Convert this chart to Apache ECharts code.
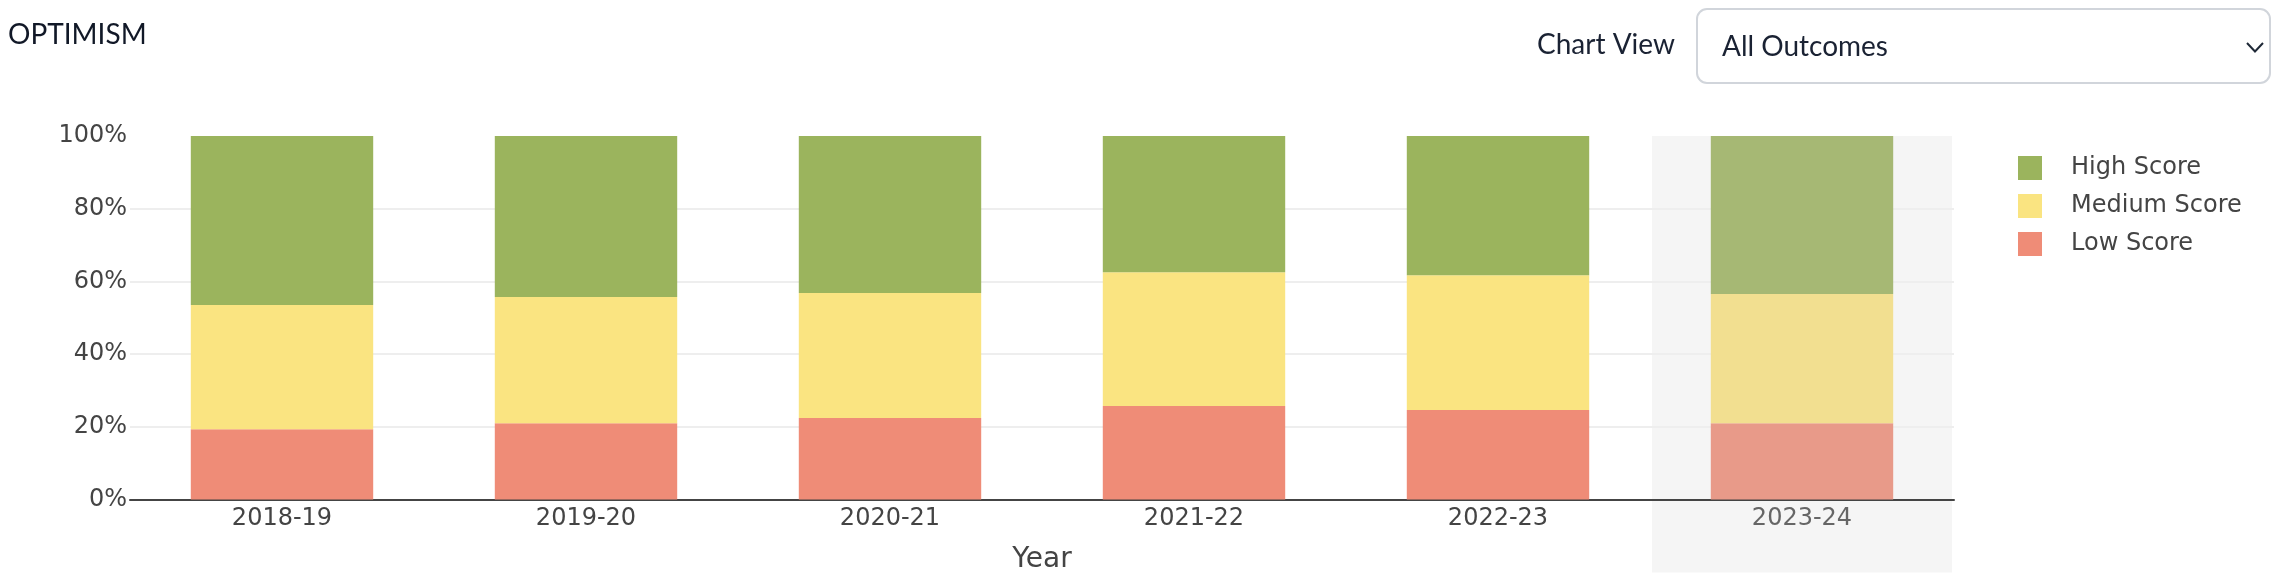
<!DOCTYPE html>
<html>
<head>
<meta charset="utf-8">
<script src="https://cdn.jsdelivr.net/npm/echarts@6/dist/echarts.min.js"></script>
<style>
  html, body { margin: 0; padding: 0; background: #ffffff; }
  #chart { width: 2284px; height: 582px; }
</style>
</head>
<body>
<div id="chart"></div>
<script>
// ---- data ----
const years = ['2018-19', '2019-20', '2020-21', '2021-22', '2022-23', '2023-24'];
const lowScore = [19.3, 21.0, 22.4, 25.7, 24.6, 21.0];
const mediumScore = [34.2, 34.7, 34.4, 36.8, 37.1, 35.5];
const highScore = [46.5, 44.3, 43.2, 37.5, 38.3, 43.5];
const yTicks = [0, 20, 40, 60, 80, 100];
const highlightedYear = '2023-24';

// ---- styles ----
const colors = { high: '#9BB45D', medium: '#FAE481', low: '#EF8C77' };
const fadedColors = { high: '#A6B874', medium: '#F2DF90', low: '#E89A89' };
const tickFont = 'DejaVu Sans, Verdana, sans-serif';
const uiFont = 'Lato, "Noto Sans", sans-serif';

function styled(values, key) {
  return values.map((v, i) => years[i] === highlightedYear
    ? { value: v, itemStyle: { color: fadedColors[key] } }
    : v);
}

const chart = echarts.init(document.getElementById('chart'), null, { renderer: 'canvas' });

const option = {
  backgroundColor: '#ffffff',
  animation: false,
  title: {
    text: 'OPTIMISM',
    left: 8,
    top: 21,
    padding: 0,
    textStyle: { fontFamily: uiFont, fontSize: 28, fontWeight: 'normal', color: '#111827' }
  },
  graphic: [
    { type: 'text', left: 1537, top: 31, style: { text: 'Chart View', font: '28px Lato, "Noto Sans", sans-serif', fill: '#1a2233' } },
    { type: 'rect', shape: { x: 1697, y: 9, width: 573, height: 74, r: 10 }, style: { fill: '#ffffff', stroke: '#d1d5db', lineWidth: 2 } },
    { type: 'text', left: 1722, top: 33, style: { text: 'All Outcomes', font: '28px Lato, "Noto Sans", sans-serif', fill: '#1a2233' } },
    { type: 'polyline', shape: { points: [[2247, 43], [2255, 51.5], [2263, 43]] }, style: { stroke: '#1f2937', lineWidth: 2, fill: null } }
  ],
  legend: {
    orient: 'vertical',
    left: 2018,
    top: 156,
    padding: 0,
    itemWidth: 24,
    itemHeight: 24,
    itemGap: 14,
    icon: 'rect',
    data: ['High Score', 'Medium Score', 'Low Score'],
    textStyle: { fontFamily: tickFont, fontSize: 24, color: '#444444', padding: [0, 0, 0, 24] }
  },
  grid: { left: 130, right: 330, top: 136, height: 363.5 },
  xAxis: {
    type: 'category',
    data: years,
    name: 'Year',
    nameLocation: 'middle',
    nameGap: 46,
    nameTextStyle: { fontFamily: tickFont, fontSize: 28, color: '#444444' },
    axisLine: { lineStyle: { color: '#444444', width: 2 } },
    axisTick: { show: false },
    axisLabel: {
      fontFamily: tickFont, fontSize: 24, margin: 7,
      color: function (value) { return value === highlightedYear ? '#666666' : '#444444'; }
    },
    splitLine: { show: false }
  },
  yAxis: {
    type: 'value',
    min: yTicks[0],
    max: yTicks[yTicks.length - 1],
    interval: yTicks[1] - yTicks[0],
    axisLine: { show: false },
    axisTick: { show: false },
    axisLabel: { fontFamily: tickFont, fontSize: 24, color: '#444444', margin: 3, formatter: '{value}%' },
    splitLine: { show: true, showMinLine: false, showMaxLine: false, lineStyle: { color: '#eeeeee', width: 2 } }
  },
  series: [
    {
      type: 'custom',
      name: 'highlight',
      silent: true,
      z: -1,
      clip: false,
      data: [[highlightedYear, 100]],
      renderItem: function (params, api) {
        const bottom = api.coord([api.value(0), 0]);
        const top = api.coord([api.value(0), 100]);
        const w = api.size([1, 0])[0];
        return {
          type: 'rect',
          shape: { x: bottom[0] - w / 2 + 2, y: top[1], width: w - 4, height: bottom[1] - top[1] + 73 },
          style: { fill: '#f5f5f5' }
        };
      }
    },
    { name: 'Low Score', type: 'bar', stack: 'total', barWidth: '60%', itemStyle: { color: colors.low }, data: styled(lowScore, 'low') },
    { name: 'Medium Score', type: 'bar', stack: 'total', barWidth: '60%', itemStyle: { color: colors.medium }, data: styled(mediumScore, 'medium') },
    { name: 'High Score', type: 'bar', stack: 'total', barWidth: '60%', itemStyle: { color: colors.high }, data: styled(highScore, 'high') }
  ]
};

chart.setOption(option);
</script>
</body>
</html>
